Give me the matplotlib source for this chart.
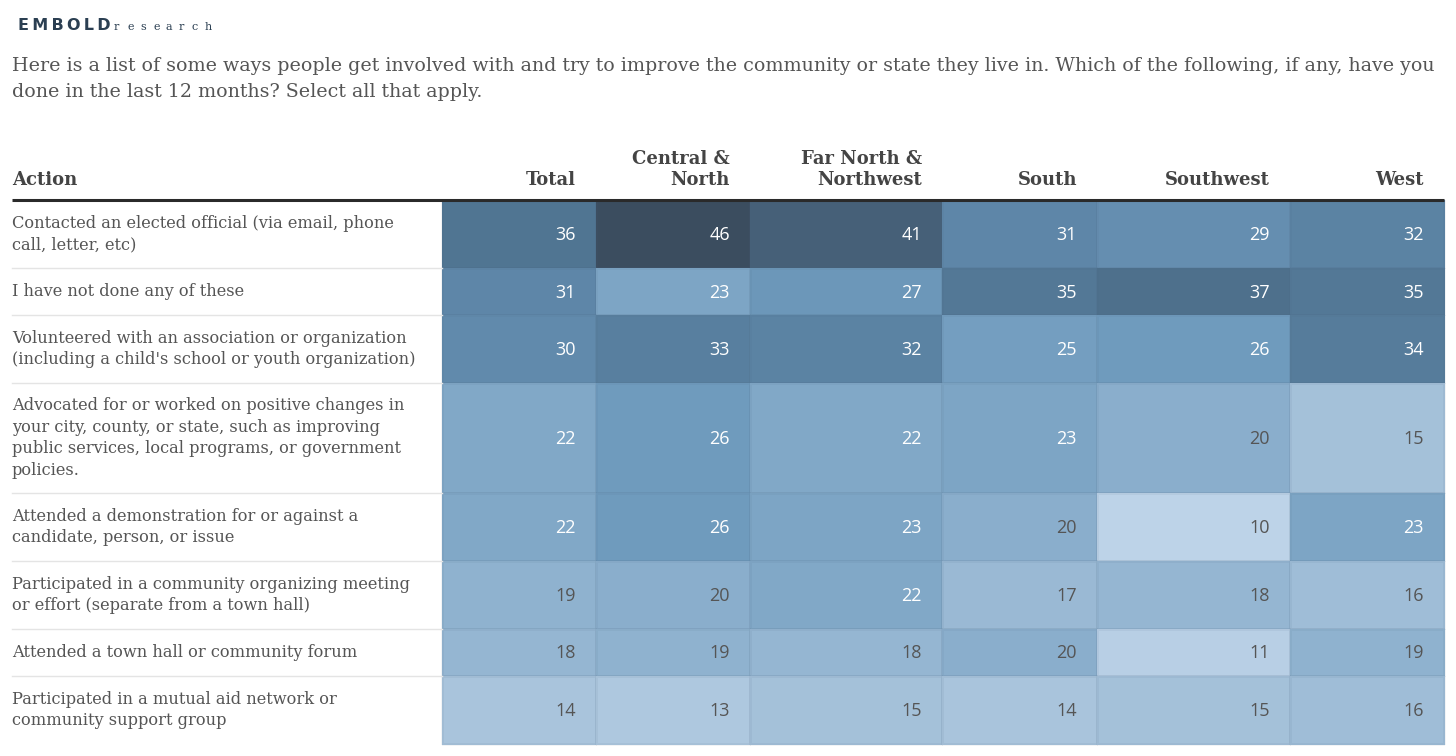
import numpy as np
import matplotlib
matplotlib.use("Agg")
import matplotlib.pyplot as plt
from matplotlib.colors import LinearSegmentedColormap, Normalize

# Data
actions = [
    "Contacted an elected official (via email, phone\ncall, letter, etc)",
    "I have not done any of these",
    "Volunteered with an association or organization\n(including a child's school or youth organization)",
    "Advocated for or worked on positive changes in\nyour city, county, or state, such as improving\npublic services, local programs, or government\npolicies.",
    "Attended a demonstration for or against a\ncandidate, person, or issue",
    "Participated in a community organizing meeting\nor effort (separate from a town hall)",
    "Attended a town hall or community forum",
    "Participated in a mutual aid network or\ncommunity support group",
]
columns = ["Total", "Central &\nNorth", "Far North &\nNorthwest", "South", "Southwest", "West"]
total = [36, 31, 30, 22, 22, 19, 18, 14]
central_north = [46, 23, 33, 26, 26, 20, 19, 13]
far_north_nw = [41, 27, 32, 22, 23, 22, 18, 15]
south = [31, 35, 25, 23, 20, 17, 20, 14]
southwest = [29, 37, 26, 20, 10, 18, 11, 15]
west = [32, 35, 34, 15, 23, 16, 19, 16]

values = np.array([total, central_north, far_north_nw, south, southwest, west]).T

# colour scale
anchors = [(10, "#bdd3e8"), (14, "#a9c4dc"), (20, "#8aaecc"), (26, "#6f9bbd"),
           (31, "#5e86a8"), (36, "#507592"), (41, "#466078"), (46, "#3b4d5f")]
lo, hi = anchors[0][0], anchors[-1][0]
cmap = LinearSegmentedColormap.from_list(
    "embold", [((v - lo) / (hi - lo), c) for v, c in anchors])
norm = Normalize(lo, hi)

W, H = 1456, 756
fig = plt.figure(figsize=(W / 100, H / 100), dpi=100)
ax = fig.add_axes([0, 0, 1, 1])
ax.set_xlim(0, W)
ax.set_ylim(H, 0)
ax.axis("off")

serif = ["DejaVu Serif"]
sans = ["Open Sans", "DejaVu Sans"]

# logo + question
ax.text(18, 26, "E\u2009M\u2009B\u2009O\u2009L\u2009D", fontsize=11.5, fontweight="heavy",
        color="#2b3f52", family=["DejaVu Sans"], va="center", ha="left")
for k, ch in enumerate("research"):
    ax.text(114 + 13 * k, 27, ch, fontsize=8, color="#2b3f52", family=serif,
            va="center", ha="left")
ax.text(12, 66, "Here is a list of some ways people get involved with and try to improve the community "
        "or state they live in. Which of the following, if any, have you",
        fontsize=13.7, color="#555555", family=serif, va="center", ha="left")
ax.text(12, 92, "done in the last 12 months? Select all that apply.",
        fontsize=13.7, color="#555555", family=serif, va="center", ha="left")

# table geometry
label_x = 12
x_edges = np.array([442, 596, 750, 942, 1097, 1290, 1444])
head_y = 200
n_lines = [a.count("\n") + 1 for a in actions]
row_h = [21 * n + 26 for n in n_lines]
y_edges = np.concatenate([[head_y], head_y + np.cumsum(row_h)])

ax.pcolormesh(x_edges, y_edges, values, cmap=cmap, norm=norm,
              edgecolor=(0.3, 0.4, 0.5, 0.08), linewidth=0.8)

# headers
ax.text(label_x, 185, "Action", fontsize=13, fontweight="bold", color="#444444",
        family=serif, ha="left", va="baseline")
for j, col in enumerate(columns):
    ax.text(x_edges[j + 1] - 20, 185, col, fontsize=13, fontweight="bold", color="#444444",
            family=serif, ha="right", va="baseline", linespacing=1.25)
ax.plot([label_x, x_edges[-1]], [head_y, head_y], color="#2a2a2a", lw=2.2,
        solid_capstyle="butt", zorder=5)

# rows
for i, act in enumerate(actions):
    yc = (y_edges[i] + y_edges[i + 1]) / 2
    ax.text(label_x, yc, act, fontsize=11.7, color="#555555", family=serif,
            ha="left", va="center", linespacing=1.36)
    if i > 0:
        ax.plot([label_x, x_edges[0]], [y_edges[i], y_edges[i]], color="#e4e4e4", lw=1)
    for j in range(values.shape[1]):
        v = values[i, j]
        ax.text(x_edges[j + 1] - 20, yc + 1, str(v), fontsize=13, family=sans,
                color="white" if v > 20 else "#555555", ha="right", va="center")

fig.savefig("out.png", dpi=100)
